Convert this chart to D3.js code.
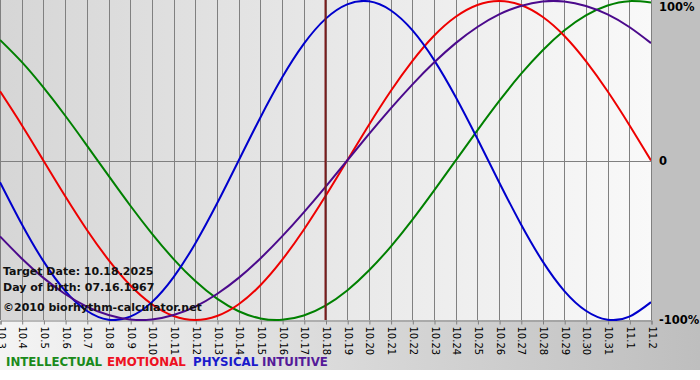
<!DOCTYPE html>
<html>
<head>
<meta charset="utf-8">
<script src="https://cdn.jsdelivr.net/npm/d3@7"></script>
<style>
  html, body { margin: 0; padding: 0; background: #ffffff; }
  svg { display: block; }
</style>
</head>
<body>
<svg id="chart" width="700" height="380"></svg>
<script>
// ---- data ----
const days = ["10.3","10.4","10.5","10.6","10.7","10.8","10.9","10.10","10.11","10.12","10.13","10.14","10.15","10.16","10.17","10.18","10.19","10.20","10.21","10.22","10.23","10.24","10.25","10.26","10.27","10.28","10.29","10.30","10.31","11.1","11.2"];
const intellectual = [0.756,0.618,0.458,0.282,0.095,-0.095,-0.282,-0.458,-0.618,-0.756,-0.866,-0.945,-0.990,-0.999,-0.972,-0.910,-0.815,-0.690,-0.541,-0.372,-0.189,0.000,0.189,0.372,0.541,0.690,0.815,0.910,0.972,0.999,0.990];
const emotional = [0.434,0.223,0.000,-0.223,-0.434,-0.623,-0.782,-0.901,-0.975,-1.000,-0.975,-0.901,-0.782,-0.623,-0.434,-0.223,0.000,0.223,0.434,0.623,0.782,0.901,0.975,1.000,0.975,0.901,0.782,0.623,0.434,0.223,0.000];
const physical = [-0.136,-0.398,-0.631,-0.817,-0.942,-0.998,-0.979,-0.888,-0.731,-0.520,-0.270,0.000,0.270,0.520,0.731,0.888,0.979,0.998,0.942,0.817,0.631,0.398,0.136,-0.136,-0.398,-0.631,-0.817,-0.942,-0.998,-0.979,-0.888];
const intuitive = [-0.476,-0.614,-0.736,-0.837,-0.916,-0.969,-0.997,-0.997,-0.969,-0.916,-0.837,-0.736,-0.614,-0.476,-0.325,-0.165,0.000,0.165,0.325,0.476,0.614,0.736,0.837,0.916,0.969,0.997,0.997,0.969,0.916,0.837,0.736];
const seriesNames = ["INTELLECTUAL","EMOTIONAL","PHYSICAL","INTUITIVE"];
const yTickLabels = ["100%","0","-100%"];
const yTickValues = [1, 0, -1];
const targetDay = "10.18";
const infoLines = ["Target Date: 10.18.2025","Day of birth: 07.16.1967"];
const copyright = "\u00A92010 biorhythm-calculator.net";

// ---- layout ----
const plotLeft = 0, plotRight = 651, plotTop = 0, plotBottom = 320;
const colors = { INTELLECTUAL: "#008000", EMOTIONAL: "#ee0000", PHYSICAL: "#0000cc", INTUITIVE: "#4b0a8c" };
const textColors = { INTELLECTUAL: "#1a8a1a", EMOTIONAL: "#ee1122", PHYSICAL: "#1a1acc", INTUITIVE: "#551a99" };
const legendX = [6, 107, 193, 262];
const seriesData = { INTELLECTUAL: intellectual, EMOTIONAL: emotional, PHYSICAL: physical, INTUITIVE: intuitive };

const svg = d3.select("#chart");
const font = "'DejaVu Sans', Verdana, sans-serif";

const defs = svg.append("defs");
const gOuter = defs.append("linearGradient").attr("id", "gOuter").attr("x1", "0").attr("x2", "1").attr("y1", "0").attr("y2", "0");
gOuter.append("stop").attr("offset", "0").attr("stop-color", "#f4f4f4");
gOuter.append("stop").attr("offset", "1").attr("stop-color", "#bebebe");
const gPlot = defs.append("linearGradient").attr("id", "gPlot").attr("x1", "0").attr("x2", "1").attr("y1", "0").attr("y2", "0");
gPlot.append("stop").attr("offset", "0").attr("stop-color", "#d6d6d6");
gPlot.append("stop").attr("offset", "1").attr("stop-color", "#f9f9f9");
defs.append("clipPath").attr("id", "clip").append("rect")
  .attr("x", plotLeft).attr("y", plotTop - 2).attr("width", plotRight - plotLeft).attr("height", plotBottom - plotTop + 3);

svg.append("rect").attr("x", 0).attr("y", 0).attr("width", 700).attr("height", 370).attr("fill", "url(#gOuter)");
svg.append("rect").attr("x", 651).attr("y", 0).attr("width", 49).attr("height", 322).attr("fill", "#c0c0c0");
svg.append("rect").attr("x", plotLeft).attr("y", plotTop).attr("width", plotRight - plotLeft).attr("height", plotBottom - plotTop).attr("fill", "url(#gPlot)");

const x = d3.scalePoint().domain(days).range([plotLeft, plotRight]).padding(0);
const y = d3.scaleLinear().domain([-1, 1]).range([plotBottom, plotTop + 1]);

// vertical grid
svg.append("g").selectAll("line").data(days).join("line")
  .attr("x1", d => Math.round(x(d)) + 0.5).attr("x2", d => Math.round(x(d)) + 0.5)
  .attr("y1", plotTop).attr("y2", plotBottom)
  .attr("stroke", "#808080").attr("stroke-width", 1);

// zero line
svg.append("line").attr("x1", plotLeft).attr("x2", plotRight)
  .attr("y1", Math.round(y(0)) + 0.5).attr("y2", Math.round(y(0)) + 0.5)
  .attr("stroke", "#808080");

// bottom axis
const xAxis = d3.axisBottom(x).tickSize(4).tickFormat(d => d);
const axisG = svg.append("g").attr("transform", `translate(0.5,${plotBottom + 0.5})`).call(xAxis);
axisG.select(".domain").attr("stroke", "#808080");
axisG.selectAll(".tick line").attr("stroke", "#808080");
axisG.selectAll(".tick text")
  .attr("font-family", font).attr("font-size", "10px").attr("fill", "#000")
  .attr("text-anchor", "start")
  .attr("transform", "rotate(90)")
  .attr("x", 6).attr("y", 0).attr("dy", "0.35em");

// curves
const line = d3.line().x((d, i) => x(days[i])).y(d => y(d)).curve(d3.curveNatural);
const curvesG = svg.append("g").attr("clip-path", "url(#clip)");
seriesNames.forEach(name => {
  curvesG.append("path").datum(seriesData[name])
    .attr("d", line).attr("fill", "none")
    .attr("stroke", colors[name]).attr("stroke-width", 2);
});

// target line
svg.append("line")
  .attr("x1", x(targetDay)).attr("x2", x(targetDay))
  .attr("y1", plotTop).attr("y2", plotBottom)
  .attr("stroke", "#7a1c1c").attr("stroke-width", 2);

// y labels
svg.append("g").selectAll("text").data(yTickValues).join("text")
  .attr("x", 659).attr("y", d => Math.min(Math.max(y(d), 7), 322)).attr("dy", "0.35em")
  .attr("font-family", font).attr("font-size", "11.5px").attr("font-weight", "bold").attr("fill", "#000")
  .text((d, i) => yTickLabels[i]);

// info text
svg.append("g").selectAll("text").data(infoLines).join("text")
  .attr("x", 3).attr("y", (d, i) => 275 + i * 16)
  .attr("font-family", font).attr("font-size", "11px").attr("font-weight", "bold").attr("fill", "#111")
  .text(d => d);
svg.append("text").attr("x", 3).attr("y", 311)
  .attr("font-family", font).attr("font-size", "11px").attr("font-weight", "bold").attr("fill", "#111")
  .text(copyright);

// legend
svg.append("g").selectAll("text").data(seriesNames).join("text")
  .attr("x", (d, i) => legendX[i]).attr("y", 366)
  .attr("font-family", font).attr("font-size", "11.8px").attr("font-weight", "bold")
  .attr("fill", d => textColors[d])
  .text(d => d);
</script>
</body>
</html>
